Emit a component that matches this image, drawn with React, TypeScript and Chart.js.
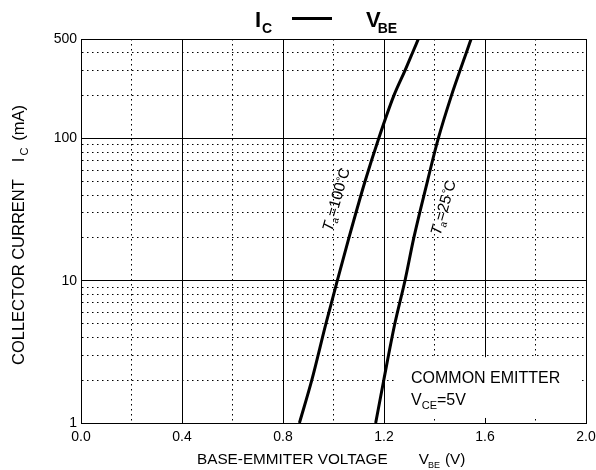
import React, { useEffect, useRef } from 'react';
import { Chart, registerables } from 'chart.js';

Chart.register(...registerables);

// Collector current (mA) sample points
const currents = [1, 2, 5, 10, 20, 50, 100, 200, 300, 400, 500];
// Base-emitter voltage (V) at Ta = 100°C
const vbe100 = [0.865, 0.914, 0.970, 1.015, 1.061, 1.125, 1.179, 1.239, 1.283, 1.313, 1.336];
// Base-emitter voltage (V) at Ta = 25°C
const vbe25 = [1.167, 1.199, 1.243, 1.283, 1.318, 1.372, 1.415, 1.467, 1.501, 1.526, 1.545];

const yTickValues = [1, 2, 3, 4, 5, 6, 7, 8, 9, 10, 20, 30, 40, 50, 60, 70, 80, 90, 100, 200, 300, 400, 500];
const yTickLabels = ['1', '10', '100', '500'];
const yMajor = [1, 10, 100, 500];
const xTickLabels = ['0.0', '0.4', '0.8', '1.2', '1.6', '2.0'];

const FONT = "'Liberation Sans', Arial, Helvetica, sans-serif";

type Part = { t: string; font: string; dy?: number; gap?: number };

function drawParts(ctx: CanvasRenderingContext2D, parts: Part[], x: number, y: number) {
  let cx = x;
  for (const p of parts) {
    cx += p.gap || 0;
    ctx.font = p.font;
    ctx.fillText(p.t, cx, y + (p.dy || 0));
    cx += ctx.measureText(p.t).width;
  }
}

const textPlugin = {
  id: 'textPlugin',
  beforeDatasetsDraw(chart: any) {
    const { ctx, scales } = chart;
    const xs = scales.x;
    const ys = scales.y;
    // white note box
    const l = xs.getPixelForValue(1.244);
    const r = xs.getPixelForValue(1.976);
    const t = ys.getPixelForValue(2.9);
    const b = ys.getPixelForValue(1.085);
    ctx.save();
    ctx.fillStyle = '#ffffff';
    ctx.fillRect(l, t, r - l, b - t);
    ctx.restore();
  },
  afterDraw(chart: any) {
    const { ctx, scales } = chart;
    const xs = scales.x;
    const ys = scales.y;
    ctx.save();
    ctx.fillStyle = '#000';
    ctx.textBaseline = 'alphabetic';
    ctx.textAlign = 'left';

    // Title
    drawParts(ctx, [
      { t: 'I', font: `bold 22px ${FONT}` },
      { t: 'C', font: `bold 14px ${FONT}`, dy: 6, gap: 1 },
    ], 255, 27);
    ctx.strokeStyle = '#000';
    ctx.lineWidth = 3;
    ctx.beginPath();
    ctx.moveTo(292, 18.5);
    ctx.lineTo(332, 18.5);
    ctx.stroke();
    drawParts(ctx, [
      { t: 'V', font: `bold 22px ${FONT}` },
      { t: 'BE', font: `bold 14px ${FONT}`, dy: 6, gap: -3 },
    ], 366, 27);

    // X title
    drawParts(ctx, [
      { t: 'BASE-EMMITER VOLTAGE', font: `15.3px ${FONT}` },
      { t: 'V', font: `15.3px ${FONT}`, gap: 31 },
      { t: 'BE', font: `9px ${FONT}`, dy: 4, gap: -1 },
      { t: '(V)', font: `15.3px ${FONT}`, gap: 5 },
    ], 197, 464);

    // Y title (rotated)
    ctx.save();
    ctx.translate(24, 365);
    ctx.rotate(-Math.PI / 2);
    drawParts(ctx, [
      { t: 'COLLECTOR CURRENT', font: `16.5px ${FONT}` },
      { t: 'I', font: `16.5px ${FONT}`, gap: 17 },
      { t: 'C', font: `11px ${FONT}`, dy: 4, gap: 2 },
      { t: '(mA)', font: `16.5px ${FONT}`, gap: 7 },
    ], 0, 0);
    ctx.restore();

    // Note
    const nx = xs.getPixelForValue(1.307);
    drawParts(ctx, [{ t: 'COMMON EMITTER', font: `16px ${FONT}` }], nx, ys.getPixelForValue(1.909));
    drawParts(ctx, [
      { t: 'V', font: `16px ${FONT}` },
      { t: 'CE', font: `11px ${FONT}`, dy: 4, gap: 0 },
      { t: '=5V', font: `16px ${FONT}` },
    ], nx, ys.getPixelForValue(1.337));

    // Curve labels
    const label = (txt: string, vx: number, vy: number, deg: number) => {
      ctx.save();
      ctx.translate(xs.getPixelForValue(vx), ys.getPixelForValue(vy));
      ctx.rotate((deg * Math.PI) / 180);
      drawParts(ctx, [
        { t: 'T', font: `italic 15.5px ${FONT}` },
        { t: 'a', font: `10px ${FONT}`, dy: 3, gap: 0 },
        { t: txt, font: `15.5px ${FONT}` },
        { t: '\u00B0', font: `11px ${FONT}`, dy: -3, gap: 1 },
        { t: 'C', font: `15px ${FONT}`, gap: -1 },
      ], 0, 0);
      ctx.restore();
    };
    label('=100', 0.994, 21.9, -74);
    label('=25', 1.423, 20.5, -74);

    ctx.restore();
  },
};

export default function App() {
  const ref = useRef<HTMLCanvasElement | null>(null);
  useEffect(() => {
    if (!ref.current) return;
    const dotted = [1.5, 3.5];
    const chart = new Chart(ref.current, {
      type: 'line',
      data: {
        datasets: [
          {
            label: 'Ta=100',
            data: currents.map((c, i) => ({ x: vbe100[i], y: c })),
            borderColor: '#000',
            borderWidth: 3,
            pointRadius: 0,
            cubicInterpolationMode: 'monotone',
          },
          {
            label: 'Ta=25',
            data: currents.map((c, i) => ({ x: vbe25[i], y: c })),
            borderColor: '#000',
            borderWidth: 3,
            pointRadius: 0,
            cubicInterpolationMode: 'monotone',
          },
        ],
      },
      options: {
        responsive: false,
        animation: false,
        events: [],
        layout: { padding: { left: 0, top: 39, right: 10, bottom: 0 } },
        plugins: { legend: { display: false }, tooltip: { enabled: false }, title: { display: false } },
        scales: {
          x: {
            type: 'linear',
            min: 0,
            max: 2,
            afterFit: (s: any) => { s.height = 47; s.paddingLeft = 0; s.paddingRight = 0; },
            ticks: {
              stepSize: 0.2,
              autoSkip: false,
              maxRotation: 0,
              padding: 6,
              color: '#000',
              font: { family: FONT, size: 14 },
              callback: (v: any) => {
                const k = Math.round(Number(v) * 10);
                return k % 4 === 0 ? xTickLabels[k / 4] : '';
              },
            },
            grid: {
              drawTicks: false,
              color: '#000',
              lineWidth: 1,
            },
            border: {
              display: true,
              color: '#000',
              width: 1,
              dash: (c: any) => {
                if (!c.tick) return [];
                const k = Math.round(c.tick.value * 10);
                return k % 4 === 0 ? [] : dotted;
              },
            } as any,
          },
          y: {
            type: 'logarithmic',
            min: 1,
            max: 500,
            afterFit: (s: any) => { s.width = 81; s.paddingTop = 0; s.paddingBottom = 0; },
            afterBuildTicks: (s: any) => { s.ticks = yTickValues.map((v) => ({ value: v })); },
            ticks: {
              autoSkip: false,
              padding: 4,
              color: '#000',
              font: { family: FONT, size: 14 },
              callback: (v: any) => {
                const i = yMajor.indexOf(Number(v));
                return i >= 0 ? yTickLabels[i] : '';
              },
            },
            grid: {
              drawTicks: false,
              color: '#000',
              lineWidth: 1,
            },
            border: {
              display: true,
              color: '#000',
              width: 1,
              dash: (c: any) => {
                if (!c.tick) return [];
                return yMajor.includes(c.tick.value) ? [] : dotted;
              },
            } as any,
          },
        },
      },
      plugins: [textPlugin],
    });
    return () => chart.destroy();
  }, []);
  return (
    <div style={{ position: 'absolute', left: 0, top: 0, width: 596, height: 470, background: '#fff' }}>
      <canvas ref={ref} width={596} height={470} style={{ width: 596, height: 470 }} />
    </div>
  );
}
